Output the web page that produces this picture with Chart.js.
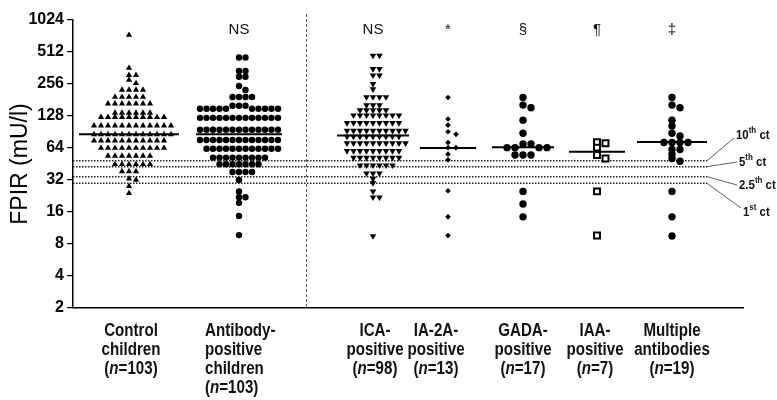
<!DOCTYPE html>
<html>
<head>
<meta charset="utf-8">
<title>FPIR</title>
<script src="https://cdn.jsdelivr.net/npm/chart.js@4.4.1/dist/chart.umd.min.js"></script>
<style>
  html, body { margin: 0; padding: 0; background: #fff; }
  #wrap { width: 777px; height: 400px; }
</style>
</head>
<body>
<div id="wrap"><canvas id="fpirChart" width="777" height="400"></canvas></div>
<script>
// Datos del gráfico (mU/l)
const groupLabels = [
  ["Control", "children", "(n=103)"],
  ["Antibody-", "positive", "children", "(n=103)"],
  ["ICA-", "positive", "(n=98)"],
  ["IA-2A-", "positive", "(n=13)"],
  ["GADA-", "positive", "(n=17)"],
  ["IAA-", "positive", "(n=7)"],
  ["Multiple", "antibodies", "(n=19)"],
];
const significance = ["", "NS", "NS", "*", "§", "¶", "‡"];
const yTicks = [2, 4, 8, 16, 32, 64, 128, 256, 512, 1024];

const controlValues = [
  740, 362, 310, 310, 280, 260,
  225, 225, 225, 225,
  193, 193, 193, 193, 193,
  167, 167, 167, 167, 167, 167, 167,
  137, 137, 137, 137, 137, 137,
  125, 125, 125, 125, 125, 125, 125, 125, 125, 125,
  104, 104, 104, 104, 104, 104, 104, 104, 104, 104, 104, 104,
  86, 86, 86, 86, 86, 86, 86, 86, 86, 86, 86, 86,
  75, 75, 75, 75, 75, 75, 75, 75, 75, 75, 75,
  64, 64, 64, 64, 64, 64, 64, 64, 64, 64,
  54, 54, 54, 54, 54, 54, 54,
  45, 45, 45, 45, 45, 45,
  38.5, 38.5, 38.5, 33, 32, 28, 24,
];
const antibodyValues = [
  455, 455, 340, 340, 300, 300, 245, 225,
  193, 193, 193, 193,
  160, 160, 160,
  150, 150, 150, 150, 150, 150, 150, 150, 150, 150,
  123, 123, 123, 123, 123, 123, 123, 123, 123, 123, 123, 123, 123,
  95, 95, 95, 95, 95, 95, 95, 95, 95, 95, 95, 95, 95,
  76, 76, 76, 76, 76, 76, 76, 76, 76, 76, 76, 76, 76,
  63, 63, 63, 63, 63, 63, 63, 63, 63, 63, 63, 63,
  52, 52, 52, 52, 52, 52, 52, 52, 52,
  45, 45, 45, 45, 45, 45, 45,
  38, 38, 38, 38,
  32, 25, 22, 22, 19.5, 14.7, 9.7,
];
const icaValues = [
  474, 474, 355, 355, 309, 309, 256, 229,
  193, 193, 193, 193,
  162, 162, 162,
  145, 145, 145, 145, 145,
  130, 130, 130, 130, 130, 130, 130, 130,
  110, 110, 110, 110, 110, 110, 110, 110, 110,
  93, 93, 93, 93, 93, 93, 93, 93, 93, 93,
  82, 82, 82, 82, 82, 82, 82, 82, 82,
  71, 71, 71, 71, 71, 71, 71, 71, 71, 71,
  60, 60, 60, 60, 60, 60, 60, 60, 60,
  52, 52, 52, 52, 52, 52, 52, 52,
  44, 44, 44, 44, 44, 44,
  37, 37, 37,
  33, 30, 25, 22, 22, 9.5,
];
const ia2aValues = [191, 120, 105, 91, 86, 72, 64.5, 64.5, 56, 49.5, 25.3, 14.4, 9.6];
const gadaValues = [191, 162, 153, 117, 88, 70, 70, 64.5, 64.5, 64.5, 64.5, 55, 55, 55, 25, 19, 14.4];
const iaaValues = [72.5, 71, 64.5, 55, 51, 25, 9.6];
const multipleValues = [191, 162, 153, 117, 103, 88, 83, 72, 72, 72, 72, 62, 62, 56, 51, 48, 25, 14.4, 9.5];

const medians = [86, 86, 84, 64, 65, 59, 73];
const cutoffValues = [48.6, 42.7, 34.4, 29.8];
const cutoffLabels = [["10", "th"], ["5", "th"], ["2.5", "th"], ["1", "st"]];

// Disposición (unidades del eje x = píxeles del área del gráfico)
const groupCenters = [56, 166, 300, 375, 450, 524, 599];
const medianHalfWidths = [50, 43, 36, 28, 31, 28, 35];
const swarmSpacing = [6.6, 6.2, 6.4, 8, 8, 8.5, 8];
const dividerPos = 233;
const cutoffEnd = 634;
const cutoffLabelY = [135, 162, 185, 212];
const cutoffLabelX = [736, 739, 739, 743];
const labelCenters = [131, 205, 375, 436, 523, 595, 672];
const PX_PER_DOUBLING = 288 / 9;

// Colocación tipo "beeswarm": cada punto conserva su valor, sólo se desplaza en x
function swarm(values, center, d) {
  const placed = [];
  const sorted = values.slice().sort((a, b) => b - a);
  return sorted.map((v) => {
    const py = Math.log2(v) * PX_PER_DOUBLING;
    let off = 0;
    for (let k = 0; k < 600; k++) {
      const cand = k === 0 ? 0 : (k % 2 ? 1 : -1) * Math.ceil(k / 2) * 0.5;
      const hit = placed.some((p) => Math.abs(p.dx - cand) < d && Math.abs(p.py - py) < 4);
      if (!hit) { off = cand; break; }
    }
    placed.push({ dx: off, py: py });
    return { x: center + off, y: v };
  });
}

const groupValues = [controlValues, antibodyValues, icaValues, ia2aValues, gadaValues, iaaValues, multipleValues];
const pointStyles = [
  { pointStyle: "triangle", pointRadius: 3.6, rotation: 0 },
  { pointStyle: "circle", pointRadius: 3.2, rotation: 0 },
  { pointStyle: "triangle", pointRadius: 3.8, rotation: 180 },
  { pointStyle: "rectRot", pointRadius: 2.8, rotation: 0 },
  { pointStyle: "circle", pointRadius: 3.7, rotation: 0 },
  { pointStyle: "rect", pointRadius: 4.2, rotation: 0 },
  { pointStyle: "circle", pointRadius: 3.7, rotation: 0 },
];

const datasets = [];
groupValues.forEach((vals, i) => {
  const st = pointStyles[i];
  const open = st.pointStyle === "rect";
  datasets.push({
    type: "scatter",
    data: swarm(vals, groupCenters[i], swarmSpacing[i]),
    pointStyle: st.pointStyle,
    pointRadius: st.pointRadius,
    rotation: st.rotation,
    backgroundColor: open ? "#fff" : "#000",
    borderColor: "#000",
    borderWidth: open ? 2 : 0,
    order: 2,
  });
});
// Medianas
medians.forEach((m, i) => {
  datasets.push({
    type: "line",
    data: [{ x: groupCenters[i] - medianHalfWidths[i], y: m }, { x: groupCenters[i] + medianHalfWidths[i], y: m }],
    borderColor: "#000",
    borderWidth: 2,
    pointRadius: 0,
    order: 0,
  });
});
// Percentiles de referencia
cutoffValues.forEach((c) => {
  datasets.push({
    type: "line",
    data: [{ x: 0, y: c }, { x: cutoffEnd, y: c }],
    borderColor: "#222",
    borderWidth: 1.5,
    borderDash: [1.5, 1.5],
    pointRadius: 0,
    order: 3,
  });
});

// Texto con tramos (cursiva, superíndices) y compresión horizontal opcional
function drawSpans(ctx, spans, x, y, align, sx) {
  sx = sx || 1;
  let total = 0;
  spans.forEach((s) => { ctx.font = s.font; total += ctx.measureText(s.text).width; });
  let cx = align === "left" ? 0 : -total / 2;
  ctx.save();
  ctx.translate(x, y);
  ctx.scale(sx, 1);
  spans.forEach((s) => {
    ctx.font = s.font;
    ctx.fillText(s.text, cx, s.dy || 0);
    cx += ctx.measureText(s.text).width;
  });
  ctx.restore();
}

const extrasPlugin = {
  id: "extras",
  afterDatasetsDraw(chart) {
    const { ctx, scales: { x, y }, chartArea } = chart;
    ctx.save();
    // línea divisoria vertical
    const dx = Math.round(x.getPixelForValue(dividerPos)) + 0.5;
    ctx.strokeStyle = "#555";
    ctx.lineWidth = 1;
    ctx.setLineDash([3, 2]);
    ctx.beginPath();
    ctx.moveTo(dx, 14);
    ctx.lineTo(dx, chartArea.bottom);
    ctx.stroke();
    ctx.setLineDash([]);

    // significancia
    ctx.fillStyle = "#111";
    ctx.textAlign = "left";
    ctx.textBaseline = "middle";
    significance.forEach((s, i) => {
      if (s) drawSpans(ctx, [{ text: s, font: "15px 'Liberation Sans', Arial, sans-serif" }],
        x.getPixelForValue(groupCenters[i]), 30, "center");
    });

    // etiquetas de percentiles
    ctx.strokeStyle = "#333";
    ctx.lineWidth = 0.8;
    cutoffValues.forEach((c, i) => {
      const x0 = x.getPixelForValue(cutoffEnd);
      const y0 = y.getPixelForValue(c);
      const ly = cutoffLabelY[i];
      const lx = cutoffLabelX[i];
      const ey = i === 0 ? ly + 3 : i === 3 ? ly - 4 : ly;
      ctx.beginPath();
      ctx.moveTo(x0, y0);
      ctx.lineTo(lx - 2, ey);
      ctx.stroke();
      drawSpans(ctx, [
        { text: cutoffLabels[i][0], font: "bold 13px 'Liberation Sans', Arial" },
        { text: cutoffLabels[i][1], font: "bold 9px 'Liberation Sans', Arial", dy: -4 },
        { text: " ct", font: "bold 13px 'Liberation Sans', Arial" },
      ], lx, ly, "left", 0.88);
    });

    // etiquetas de categorías
    const base = "bold 18px 'Liberation Sans', Arial, sans-serif";
    const ital = "italic bold 18px 'Liberation Sans', Arial, sans-serif";
    ctx.fillStyle = "#111";
    groupLabels.forEach((lines, i) => {
      const align = i === 1 ? "left" : "center";
      lines.forEach((ln, j) => {
        const ly = 331 + j * 19;
        let spans;
        if (ln.startsWith("(n=")) {
          spans = [
            { text: "(", font: base },
            { text: "n", font: ital },
            { text: ln.slice(2), font: base },
          ];
        } else {
          spans = [{ text: ln, font: base }];
        }
        drawSpans(ctx, spans, labelCenters[i], ly, align, 0.84);
      });
    });
    ctx.restore();
  },
};

const ctx = document.getElementById("fpirChart").getContext("2d");
new Chart(ctx, {
  type: "scatter",
  data: { datasets: datasets },
  options: {
    responsive: false,
    animation: false,
    devicePixelRatio: 1,
    layout: { padding: { top: 20, right: 34, bottom: 0, left: 0 } },
    plugins: { legend: { display: false }, tooltip: { enabled: false } },
    scales: {
      x: {
        type: "linear",
        min: 0,
        max: 670,
        grid: { display: false },
        ticks: { display: false },
        border: { display: true, color: "#000", width: 1.5 },
        afterFit: (scale) => { scale.height = 92; },
      },
      y: {
        type: "logarithmic",
        min: 2,
        max: 1024,
        afterBuildTicks: (scale) => { scale.ticks = yTicks.map((v) => ({ value: v })); },
        ticks: {
          color: "#000",
          padding: 3,
          font: { family: "'Liberation Sans', Arial, sans-serif", size: 16, weight: "bold" },
          callback: (v) => String(v),
        },
        grid: { drawOnChartArea: false, drawTicks: true, tickLength: 6, color: "#000", lineWidth: 1.2 },
        border: { display: true, color: "#000", width: 1.5 },
        title: {
          display: true,
          text: "FPIR (mU/l)",
          color: "#000",
          font: { family: "'Liberation Sans', Arial, sans-serif", size: 23 },
          padding: { top: 7, bottom: 0 },
        },
        afterFit: (scale) => { scale.width = 73; },
      },
    },
  },
  plugins: [extrasPlugin],
});
</script>
</body>
</html>
